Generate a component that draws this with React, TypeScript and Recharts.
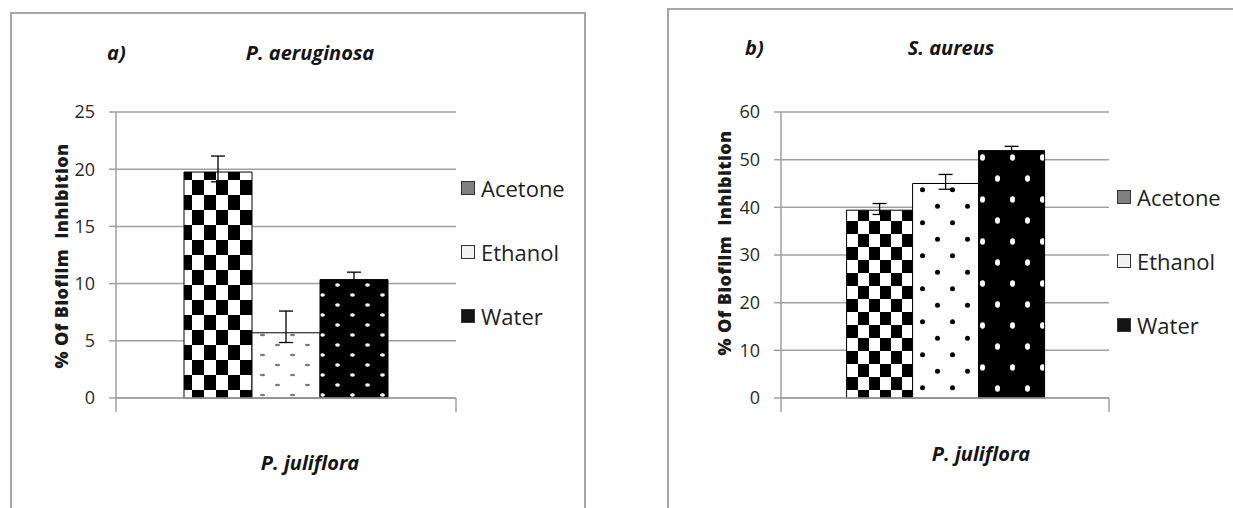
import React from "react";
import { BarChart, Bar, XAxis, YAxis, CartesianGrid, ErrorBar, Legend } from "recharts";

const extracts = ["Acetone", "Ethanol", "Water"];
const plantName = "P. juliflora";
const yTitle = "% Of Biofilm  Inhibition";

// a) P. aeruginosa
const aeruginosaValues = [19.75, 5.7, 10.35];
const aeruginosaErrors = [[0.85, 1.4], [0.85, 1.9], [0.2, 0.65]];
const aeruginosaTicks = [0, 5, 10, 15, 20, 25];

// b) S. aureus
const aureusValues = [39.4, 45.0, 51.9];
const aureusErrors = [[0.9, 1.4], [1.2, 1.9], [0.6, 0.9]];
const aureusTicks = [0, 10, 20, 30, 40, 50, 60];

const legendSwatches = ["#808080", "#f2f2f2", "#141414"];

const GRID = "#a0a0a0";
const FONT = "'Open Sans', sans-serif";
const LEGEND_W = 130;

const buildRows = (values: number[], errors: number[][]) => {
  const row: any = { name: plantName };
  extracts.forEach((k, i) => {
    row[k] = values[i];
    row[k + "Err"] = errors[i];
  });
  return [row];
};

const LegendBox = ({ pitch }: any) => (
  <div style={{ fontFamily: FONT, fontSize: 22, color: "#222" }}>
    {extracts.map((name, i) => (
      <div
        key={name}
        style={{ display: "flex", alignItems: "center", height: 24, marginBottom: pitch - 24 }}
      >
        <span
          style={{
            display: "inline-block",
            width: 12,
            height: 12,
            background: legendSwatches[i],
            border: "1px solid #333",
            marginRight: 6,
          }}
        />
        <span style={{ lineHeight: "24px" }}>{name}</span>
      </div>
    ))}
  </div>
);

const CategoryTick = ({ x, y, payload, half, labelDx, labelY }: any) => (
  <g>
    <line x1={x - half} x2={x - half} y1={y} y2={y + 14} stroke={GRID} strokeWidth={1.5} />
    <line x1={x + half} x2={x + half} y1={y} y2={y + 14} stroke={GRID} strokeWidth={1.5} />
    <text
      x={x + labelDx}
      y={labelY}
      textAnchor="middle"
      dominantBaseline="central"
      fontFamily={FONT}
      fontWeight="bold"
      fontStyle="italic"
      fontSize={20}
      fill="#151515"
    >
      {payload.value}
    </text>
  </g>
);

const Patterns = ({ id, cw, ch, eth, water }: any) => (
  <defs>
    <pattern id={id + "-ace"} patternUnits="userSpaceOnUse" width={cw * 2} height={ch * 2}>
      <rect width={cw * 2} height={ch * 2} fill="#fff" />
      <rect width={cw} height={ch} fill="#000" />
      <rect x={cw} y={ch} width={cw} height={ch} fill="#000" />
    </pattern>
    <pattern id={id + "-eth"} patternUnits="userSpaceOnUse" width={30} height={eth.row * 2}>
      <rect width={30} height={eth.row * 2} fill="#fff" />
      <ellipse cx={7.5} cy={eth.row / 2} rx={eth.rx} ry={eth.ry} fill={eth.color} />
      <ellipse cx={22.5} cy={eth.row * 1.5} rx={eth.rx} ry={eth.ry} fill={eth.color} />
    </pattern>
    <pattern id={id + "-wat"} patternUnits="userSpaceOnUse" width={30} height={water.row * 2}>
      <rect width={30} height={water.row * 2} fill="#000" />
      <ellipse cx={7.5} cy={water.row / 2} rx={water.rx} ry={water.ry} fill="#fff" />
      <ellipse cx={22.5} cy={water.row * 1.5} rx={water.rx} ry={water.ry} fill="#fff" />
    </pattern>
  </defs>
);

const Panel = ({
  id,
  values,
  errors,
  ticks,
  width,
  plotLeft,
  plotRight,
  legendLeft,
  legendTop,
  labelDx,
  labelY,
  pattern,
}: any) => {
  const yAxisWidth = 60;
  const half = (plotRight - plotLeft) / 2;
  const fills = [`url(#${id}-ace)`, `url(#${id}-eth)`, `url(#${id}-wat)`];
  return (
    <BarChart
      width={width}
      height={508}
      data={buildRows(values, errors)}
      margin={{
        top: 112,
        right: width - plotRight - LEGEND_W,
        left: plotLeft - yAxisWidth,
        bottom: 90,
      }}
      barCategoryGap="20%"
      barGap={0}
    >
      <Patterns id={id} {...pattern} />
      <CartesianGrid vertical={false} stroke={GRID} strokeWidth={1.5} />
      <XAxis
        dataKey="name"
        height={20}
        tickLine={false}
        tickSize={0}
        tickMargin={0}
        axisLine={{ stroke: GRID, strokeWidth: 1.5 }}
        tick={(p: any) => <CategoryTick {...p} half={half} labelDx={labelDx} labelY={labelY} />}
      />
      <YAxis
        width={yAxisWidth}
        domain={[ticks[0], ticks[ticks.length - 1]]}
        ticks={ticks}
        interval={0}
        tickSize={7}
        tickMargin={14}
        axisLine={{ stroke: GRID, strokeWidth: 1.5 }}
        tickLine={{ stroke: GRID, strokeWidth: 1.5 }}
        tick={{ fill: "#2a2a2a", fontSize: 18, fontFamily: FONT }}
      />
      <Legend
        layout="vertical"
        verticalAlign="top"
        align="right"
        wrapperStyle={{ left: legendLeft, top: legendTop, right: "auto", width: LEGEND_W }}
        content={() => <LegendBox pitch={64} />}
      />
      {extracts.map((name, i) => (
        <Bar
          key={name}
          dataKey={name}
          fill={fills[i]}
          stroke="#000"
          strokeWidth={1}
          isAnimationActive={false}
        >
          <ErrorBar dataKey={name + "Err"} width={7} stroke="#000" strokeWidth={1.3} direction="y" />
        </Bar>
      ))}
    </BarChart>
  );
};

const Title = ({ x, y, text, anchor }: any) => (
  <div
    style={{
      position: "absolute",
      left: x,
      top: y,
      transform: anchor === "start" ? "translate(0,-50%)" : "translate(-50%,-50%)",
      fontFamily: FONT,
      fontWeight: "bold",
      fontStyle: "italic",
      fontSize: 20,
      color: "#151515",
      whiteSpace: "nowrap",
    }}
  >
    {text}
  </div>
);

const YTitle = ({ x, y }: any) => (
  <div
    style={{
      position: "absolute",
      left: x,
      top: y,
      transform: "translate(-50%,-50%) rotate(-90deg)",
      fontFamily: FONT,
      fontWeight: 800,
      fontSize: 18,
      letterSpacing: 0.4,
      color: "#1a1a1a",
      whiteSpace: "pre",
    }}
  >
    {yTitle}
  </div>
);

export default function App() {
  return (
    <div
      style={{
        position: "absolute",
        left: 0,
        top: 0,
        width: 1233,
        height: 508,
        background: "#fff",
        overflow: "hidden",
      }}
    >
      <div
        style={{
          position: "absolute",
          left: 10,
          top: 12,
          width: 572,
          height: 520,
          border: "2px solid #a6a6a6",
        }}
      />
      <div
        style={{
          position: "absolute",
          left: 667,
          top: 8,
          width: 600,
          height: 520,
          border: "2px solid #a6a6a6",
        }}
      />
      <div style={{ position: "absolute", left: 0, top: 0 }}>
        <Panel
          id="pa"
          values={aeruginosaValues}
          errors={aeruginosaErrors}
          ticks={aeruginosaTicks}
          width={600}
          plotLeft={116}
          plotRight={456}
          legendLeft={461}
          legendTop={176}
          labelDx={24}
          labelY={462}
          pattern={{
            cw: 12,
            ch: 15,
            eth: { row: 10, rx: 2.6, ry: 1.2, color: "#7a7a7a" },
            water: { row: 10, rx: 2.4, ry: 1.8 },
          }}
        />
      </div>
      <div style={{ position: "absolute", left: 660, top: 0 }}>
        <Panel
          id="sa"
          values={aureusValues}
          errors={aureusErrors}
          ticks={aureusTicks}
          width={600}
          plotLeft={121}
          plotRight={449}
          legendLeft={457}
          legendTop={185}
          labelDx={36}
          labelY={453}
          pattern={{
            cw: 11,
            ch: 13,
            eth: { row: 16.5, rx: 2.5, ry: 2.5, color: "#000" },
            water: { row: 21, rx: 2.5, ry: 3.2, color: "#fff" },
          }}
        />
      </div>
      <Title x={107} y={52} text="a)" anchor="start" />
      <Title x={310} y={52} text="P. aeruginosa" />
      <Title x={745} y={47} text="b)" anchor="start" />
      <Title x={951} y={47} text="S. aureus" />
      <YTitle x={61} y={256} />
      <YTitle x={724} y={243} />
    </div>
  );
}
